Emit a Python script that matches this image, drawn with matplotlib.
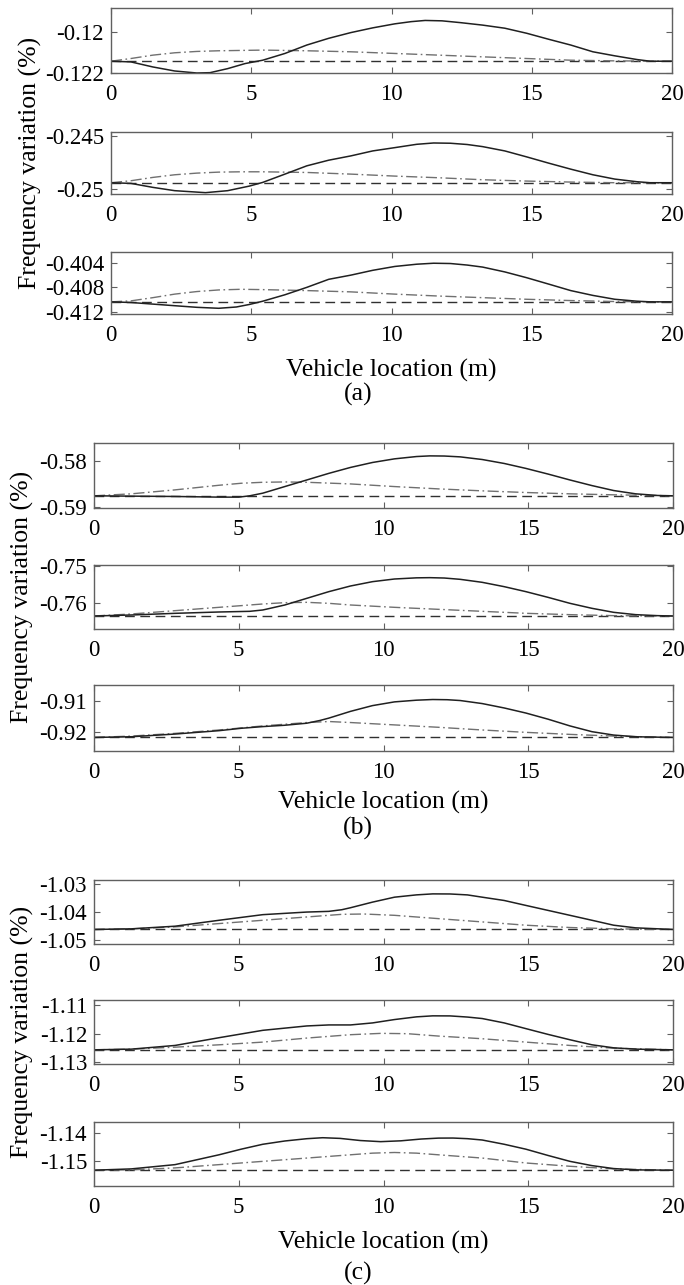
import matplotlib
matplotlib.use("Agg")
import matplotlib.pyplot as plt

plt.rcParams['font.family'] = ['Liberation Serif', 'DejaVu Serif']
plt.rcParams['axes.unicode_minus'] = False

W, H = 684, 1285

# --- DATA (vehicle location in m, frequency variation in %) ---
# group (a)
a1_xs = [0, 0.71, 1.49, 2.27, 3.06, 3.53, 4.16, 4.78, 5.41, 6.2, 6.98, 7.76, 8.55, 9.33, 10.12,
         10.7, 11.2, 11.8, 12.47, 13.25, 14.04, 14.82, 15.61, 16.39, 17.18, 17.96, 18.75, 19.22, 20]
a1_solid = [-0.121422, -0.121455, -0.121703, -0.121901, -0.122, -0.121984, -0.121785, -0.121537,
            -0.121372, -0.121041, -0.120628, -0.120298, -0.120017, -0.119785, -0.119587, -0.119480,
            -0.119421, -0.119440, -0.119530, -0.119650, -0.119802, -0.120050, -0.120347, -0.120628,
            -0.120959, -0.121157, -0.121339, -0.121422, -0.121422]
a1_xd = [0, 0.71, 1.49, 2.27, 3.06, 3.84, 5.41, 6.98, 8.55, 10.12, 11.69, 13.25, 14.82, 16.39, 17.96, 20]
a1_dashdot = [-0.121422, -0.121289, -0.121124, -0.121008, -0.120942, -0.120909, -0.120876, -0.120909,
              -0.120959, -0.121041, -0.121124, -0.121207, -0.121289, -0.121372, -0.121405, -0.121422]
a1_base = -0.121422

a2_xs = [0, 0.71, 1.49, 2.27, 3.37, 4.16, 4.94, 5.41, 6.2, 6.98, 7.76, 8.55, 9.33, 10.12, 10.9,
         11.5, 12.1, 12.7, 13.25, 14.04, 14.82, 15.61, 16.39, 17.18, 17.96, 18.75, 19.22, 20]
a2_solid = [-0.249406, -0.249469, -0.249844, -0.250156, -0.250344, -0.250156, -0.249719, -0.249375,
            -0.248594, -0.247813, -0.247281, -0.246875, -0.246406, -0.246094, -0.245781, -0.245656,
            -0.245680, -0.245800, -0.246000, -0.246406, -0.246969, -0.247563, -0.248125, -0.248656,
            -0.249063, -0.249313, -0.249406, -0.249406]
a2_xd = [0, 0.71, 1.49, 2.27, 3.06, 3.84, 4.63, 5.41, 6.98, 8.55, 10.12, 11.69, 13.25, 14.82, 16.39, 17.96, 20]
a2_dashdot = [-0.249406, -0.249219, -0.248906, -0.248656, -0.2485, -0.248406, -0.248375, -0.248375,
              -0.248438, -0.248594, -0.248781, -0.248938, -0.249125, -0.24925, -0.249344, -0.249406,
              -0.249406]
a2_base = -0.249406

a3_xs = [0, 0.71, 1.49, 2.27, 3.06, 3.84, 4.47, 4.94, 5.41, 6.2, 6.98, 7.76, 8.55, 9.33, 10.12,
         10.9, 11.5, 12.1, 12.7, 13.25, 14.04, 14.82, 15.61, 16.39, 17.18, 17.96, 18.75, 19.22, 20]
a3_solid = [-0.410338, -0.410442, -0.410702, -0.410961, -0.411221, -0.411377, -0.411169, -0.410754,
            -0.410234, -0.409195, -0.408000, -0.406701, -0.406026, -0.405247, -0.404623, -0.404260,
            -0.404104, -0.404150, -0.404400, -0.404727, -0.405507, -0.406442, -0.407481, -0.408520,
            -0.409299, -0.409922, -0.410234, -0.410338, -0.410338]
a3_xd = [0, 0.71, 1.49, 2.27, 3.06, 3.84, 4.63, 5.41, 6.98, 8.55, 10.12, 11.69, 13.25, 14.82, 16.39, 17.96, 20]
a3_dashdot = [-0.410338, -0.410182, -0.409663, -0.409091, -0.408676, -0.408416, -0.408312, -0.408364,
              -0.40852, -0.408727, -0.409091, -0.409403, -0.409663, -0.409922, -0.41013, -0.410286,
              -0.410338]
a3_base = -0.410338

# group (b)
b1_xs = [0, 1.29, 2.8, 3.56, 4.32, 5.0, 5.38, 5.83, 6.59, 7.35, 8.11, 8.86, 9.62, 10.38, 11.14,
         11.6, 12.1, 12.65, 13.41, 14.17, 14.92, 15.68, 16.44, 17.2, 17.95, 18.71, 19.47, 20]
b1_solid = [-0.587571, -0.587643, -0.587714, -0.587786, -0.587857, -0.587857, -0.587571, -0.587,
            -0.585571, -0.584143, -0.582714, -0.581429, -0.580357, -0.579571, -0.579071, -0.578929,
            -0.578960, -0.579143, -0.579714, -0.580571, -0.581643, -0.582857, -0.584143, -0.585357,
            -0.586429, -0.587143, -0.5875, -0.587571]
b1_xd = [0, 1.29, 2.8, 4.32, 5.08, 5.83, 6.59, 7.35, 8.86, 10.38, 11.89, 13.41, 14.92, 16.44, 17.95, 20]
b1_dashdot = [-0.587571, -0.587143, -0.586286, -0.585286, -0.584857, -0.584643, -0.584571, -0.584643,
              -0.585, -0.585571, -0.586071, -0.5865, -0.586857, -0.587143, -0.587357, -0.587571]
b1_base = -0.587571

b2_xs = [0, 1.29, 2.8, 4.32, 5.38, 5.83, 6.59, 7.35, 8.11, 8.86, 9.62, 10.38, 11.14, 11.6,
         12.1, 12.65, 13.41, 14.17, 14.92, 15.68, 16.44, 17.2, 17.95, 18.71, 19.47, 20]
b2_solid = [-0.763514, -0.763243, -0.762793, -0.762433, -0.762252, -0.761892, -0.760541, -0.758739,
            -0.756937, -0.755405, -0.754234, -0.753514, -0.753200, -0.753153, -0.753250, -0.753604,
            -0.754414, -0.755586, -0.756937, -0.758468, -0.76009, -0.761441, -0.762523, -0.763153,
            -0.763423, -0.763514]
b2_xd = [0, 1.29, 2.8, 4.32, 5.83, 6.59, 7.35, 8.11, 8.86, 10.38, 11.89, 13.41, 14.92, 16.44, 17.95, 20]
b2_dashdot = [-0.763514, -0.762973, -0.762072, -0.761171, -0.76027, -0.75991, -0.75982, -0.76009,
              -0.760541, -0.761171, -0.761712, -0.762252, -0.762793, -0.763153, -0.763423, -0.763514]
b2_base = -0.763514

b3_xs = [0, 1.29, 2.8, 4.32, 5.08, 5.83, 6.59, 7.35, 7.8, 8.11, 8.86, 9.62, 10.38, 11.14, 11.7,
         12.2, 12.65, 13.41, 14.17, 14.92, 15.68, 16.44, 17.2, 17.95, 18.71, 20]
b3_solid = [-0.921877, -0.921655, -0.920766, -0.919655, -0.918877, -0.918322, -0.917877, -0.91721,
            -0.916322, -0.915544, -0.913322, -0.911433, -0.91021, -0.909655, -0.909433, -0.909500,
            -0.909766, -0.910766, -0.912211, -0.913877, -0.915877, -0.918099, -0.919988, -0.921099,
            -0.921655, -0.921877]
b3_xd = [0, 1.29, 2.8, 4.32, 5.83, 7.35, 8.11, 8.86, 10.38, 11.89, 13.41, 14.92, 16.44, 17.95, 20]
b3_dashdot = [-0.921877, -0.921433, -0.920544, -0.919433, -0.918099, -0.916988, -0.916655, -0.916988,
              -0.917766, -0.918544, -0.919433, -0.920211, -0.920877, -0.921433, -0.921877]
b3_base = -0.921877

# group (c)
c1_xs = [0, 1.29, 2.8, 4.32, 5.83, 7.35, 8.11, 8.56, 8.86, 9.62, 10.38, 11.14, 11.7, 12.3,
         12.9, 13.41, 14.17, 14.92, 15.68, 16.44, 17.2, 17.95, 18.71, 20]
c1_solid = [-1.046142, -1.045924, -1.044991, -1.042897, -1.040918, -1.04, -1.039756, -1.039173,
            -1.038475, -1.036497, -1.034752, -1.033938, -1.033589, -1.033620, -1.033950, -1.034752,
            -1.035917, -1.037662, -1.039407, -1.041152, -1.042897, -1.044642, -1.045573, -1.046142]
c1_xd = [0, 1.29, 2.8, 4.32, 5.83, 7.35, 8.56, 9.32, 10.38, 11.89, 13.41, 14.92, 16.44, 17.95, 20]
c1_dashdot = [-1.046142, -1.045924, -1.045224, -1.044061, -1.042897, -1.041734, -1.040803, -1.040686,
              -1.041152, -1.042316, -1.043479, -1.044642, -1.045455, -1.045924, -1.046142]
c1_base = -1.046142

c2_xs = [0, 1.29, 2.8, 4.32, 5.83, 7.35, 8.11, 8.86, 9.62, 10.38, 11.14, 11.7, 12.3, 12.9,
         13.41, 14.17, 14.92, 15.68, 16.44, 17.2, 17.95, 18.71, 20]
c2_solid = [-1.125647, -1.125412, -1.124118, -1.121412, -1.118835, -1.117306, -1.116953, -1.116953,
            -1.116251, -1.11507, -1.114129, -1.113776, -1.113800, -1.114200, -1.114717, -1.116251,
            -1.118246, -1.120247, -1.122128, -1.123893, -1.124951, -1.125412, -1.125647]
c2_xd = [0, 1.29, 2.8, 4.32, 5.83, 7.35, 8.86, 9.92, 10.83, 11.89, 13.41, 14.92, 16.44, 17.95, 20]
c2_dashdot = [-1.125647, -1.125412, -1.124718, -1.123893, -1.122953, -1.121541, -1.120364, -1.119894,
              -1.120012, -1.120835, -1.121776, -1.122953, -1.124118, -1.125071, -1.125647]
c2_base = -1.125647

c3_xs = [0, 1.29, 2.8, 4.32, 5.08, 5.83, 6.59, 7.35, 7.9, 8.5, 9.2, 9.9, 10.6, 11.3, 11.9,
         12.4, 12.9, 13.41, 14.17, 14.92, 15.68, 16.44, 17.2, 17.95, 18.71, 20]
c3_solid = [-1.153091, -1.15263, -1.151137, -1.147689, -1.145734, -1.14401, -1.142862, -1.142058,
            -1.141714, -1.141950, -1.142700, -1.143093, -1.142800, -1.142173, -1.141850, -1.141827,
            -1.142050, -1.142517, -1.14401, -1.145734, -1.147919, -1.149988, -1.151482, -1.152516,
            -1.152976, -1.153091]
c3_xd = [0, 1.29, 2.8, 4.32, 5.83, 7.35, 8.86, 9.62, 10.38, 11.14, 11.89, 13.41, 14.92, 16.44, 17.95, 20]
c3_dashdot = [-1.153091, -1.152976, -1.152286, -1.151137, -1.149988, -1.148838, -1.147689, -1.147114,
              -1.146885, -1.147114, -1.147689, -1.148838, -1.150561, -1.151713, -1.15263, -1.153091]
c3_base = -1.153091

# y ticks / limits per panel
yticks = {
    'a1': [-0.122, -0.12], 'a2': [-0.25, -0.245], 'a3': [-0.412, -0.408, -0.404],
    'b1': [-0.59, -0.58], 'b2': [-0.76, -0.75], 'b3': [-0.92, -0.91],
    'c1': [-1.05, -1.04, -1.03], 'c2': [-1.13, -1.12, -1.11], 'c3': [-1.15, -1.14],
}
yticklabels = {
    'a1': ['-0.122', '-0.12'], 'a2': ['-0.25', '-0.245'], 'a3': ['-0.412', '-0.408', '-0.404'],
    'b1': ['-0.59', '-0.58'], 'b2': ['-0.76', '-0.75'], 'b3': ['-0.92', '-0.91'],
    'c1': ['-1.05', '-1.04', '-1.03'], 'c2': ['-1.13', '-1.12', '-1.11'], 'c3': ['-1.15', '-1.14'],
}
ylims = {
    'a1': (-0.12200, -0.11881), 'a2': (-0.25047, -0.24462), 'a3': (-0.41230, -0.40229),
    'b1': (-0.59021, -0.57614), 'b2': (-0.76703, -0.74973), 'b3': (-0.92633, -0.90467),
    'c1': (-1.05127, -1.02869), 'c2': (-1.13060, -1.10824), 'c3': (-1.15862, -1.13621),
}
xticks = [0, 5, 10, 15, 20]

panels = {
    'a1': (a1_xs, a1_solid, a1_xd, a1_dashdot, a1_base),
    'a2': (a2_xs, a2_solid, a2_xd, a2_dashdot, a2_base),
    'a3': (a3_xs, a3_solid, a3_xd, a3_dashdot, a3_base),
    'b1': (b1_xs, b1_solid, b1_xd, b1_dashdot, b1_base),
    'b2': (b2_xs, b2_solid, b2_xd, b2_dashdot, b2_base),
    'b3': (b3_xs, b3_solid, b3_xd, b3_dashdot, b3_base),
    'c1': (c1_xs, c1_solid, c1_xd, c1_dashdot, c1_base),
    'c2': (c2_xs, c2_solid, c2_xd, c2_dashdot, c2_base),
    'c3': (c3_xs, c3_solid, c3_xd, c3_dashdot, c3_base),
}

# axes boxes in pixels: left, right, top, bottom
boxes = {
    'a1': (111, 672, 8, 73), 'a2': (111, 672, 132, 194), 'a3': (111, 672, 252, 314),
    'b1': (94, 673, 443, 508), 'b2': (94, 673, 565, 629), 'b3': (94, 673, 685, 751),
    'c1': (94, 673, 880, 944), 'c2': (94, 673, 1000, 1064), 'c3': (94, 673, 1122, 1186),
}

TICK_FS = 16.5
LABEL_FS = 18.5
FRAME = '#606060'

fig = plt.figure(figsize=(W / 100, H / 100), dpi=100)

for key, (xs, ys, xd, yd, base) in panels.items():
    l, r, t, b = boxes[key]
    ax = fig.add_axes([l / W, 1 - b / H, (r - l) / W, (b - t) / H])
    ax.plot([0, 20], [base, base], color='#303030', lw=1.0, dashes=(7, 4))
    ax.plot(xd, yd, color='#707070', lw=1.0, dashes=(8, 2.5, 1.2, 2.5))
    ax.plot(xs, ys, color='#202020', lw=1.1)
    ax.set_xlim(0, 20)
    ax.set_ylim(*ylims[key])
    ax.set_xticks(xticks)
    ax.set_xticklabels([str(v) for v in xticks])
    ax.set_yticks(yticks[key])
    ax.set_yticklabels(yticklabels[key])
    ax.tick_params(direction='in', length=4, width=0.8, color=FRAME,
                   top=True, right=True, labelsize=TICK_FS)
    ax.tick_params(axis='x', pad=8)
    ax.tick_params(axis='y', pad=5)
    for s in ax.spines.values():
        s.set_color(FRAME)
        s.set_linewidth(1.0)

# axis titles and captions (pixel positions)
xlabel_pos = [(391, 370), (383, 802), (383, 1242)]
ylabel_pos = [(30, 163), (22, 597), (22, 1032)]
captions = ['(a)', '(b)', '(c)']
caption_pos = [(358, 394), (358, 828), (358, 1273)]

for (x, y) in xlabel_pos:
    fig.text(x / W, 1 - y / H, 'Vehicle location (m)', ha='center', va='center', fontsize=LABEL_FS)
for (x, y) in ylabel_pos:
    fig.text(x / W, 1 - y / H, 'Frequency variation (%)', ha='center', va='center',
             rotation=90, fontsize=LABEL_FS)
for cap, (x, y) in zip(captions, caption_pos):
    fig.text(x / W, 1 - y / H, cap, ha='center', va='center', fontsize=LABEL_FS)

fig.savefig('out.png', dpi=100)
